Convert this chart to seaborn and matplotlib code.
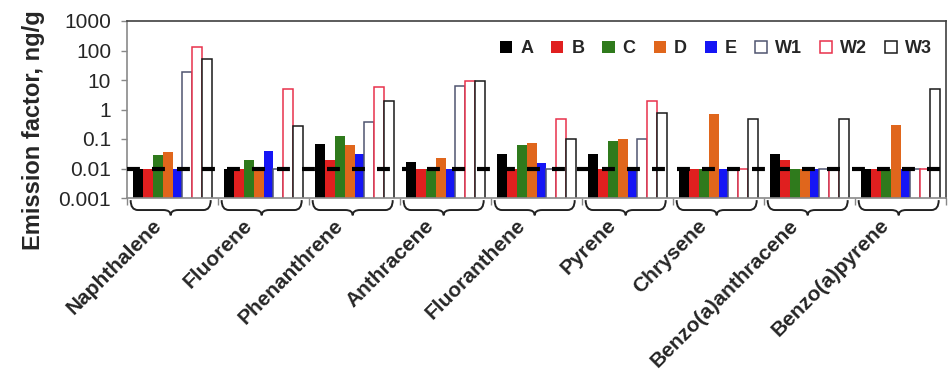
import numpy as np
import pandas as pd
import matplotlib
matplotlib.use("Agg")
import matplotlib.pyplot as plt
import seaborn as sns
from matplotlib.patches import Patch, PathPatch
from matplotlib.path import Path
import matplotlib.transforms as mtransforms

categories = ["Naphthalene", "Fluorene", "Phenanthrene", "Anthracene", "Fluoranthene",
              "Pyrene", "Chrysene", "Benzo(a)anthracene", "Benzo(a)pyrene"]
series = ["A", "B", "C", "D", "E", "W1", "W2", "W3"]
A = [0.01, 0.01, 0.068, 0.016, 0.032, 0.032, 0.01, 0.032, 0.01]
B = [0.01, 0.01, 0.02, 0.01, 0.01, 0.01, 0.01, 0.019, 0.01]
C = [0.029, 0.019, 0.13, 0.01, 0.061, 0.085, 0.01, 0.01, 0.01]
D = [0.035, 0.01, 0.063, 0.022, 0.071, 0.098, 0.72, 0.01, 0.31]
E = [0.01, 0.039, 0.03, 0.01, 0.015, 0.01, 0.01, 0.01, 0.01]
W1 = [19, 0.01, 0.39, 6.4, 0.01, 0.098, 0.01, 0.01, 0.01]
W2 = [134, 4.8, 5.9, 9.5, 0.48, 1.94, 0.01, 0.01, 0.01]
W3 = [52, 0.28, 2.0, 9.5, 0.098, 0.78, 0.48, 0.48, 4.8]
ytick_vals = [0.001, 0.01, 0.1, 1, 10, 100, 1000]
ytick_labels = ["0.001", "0.01", "0.1", "1", "10", "100", "1000"]
threshold = 0.01

fill_colors = {"A": "#000000", "B": "#e01f1f", "C": "#2f7a1c", "D": "#e0661c", "E": "#1515f5",
               "W1": "#ffffff", "W2": "#ffffff", "W3": "#ffffff"}
edge_colors = {"W1": "#505570", "W2": "#e8324c", "W3": "#1a1a1a"}

values = {"A": A, "B": B, "C": C, "D": D, "E": E, "W1": W1, "W2": W2, "W3": W3}
rows = []
for s in series:
    for c, v in zip(categories, values[s]):
        rows.append({"compound": c, "series": s, "value": v})
df = pd.DataFrame(rows)

sns.set_style("white")
plt.rcParams["font.family"] = ["Liberation Sans", "DejaVu Sans"]

fig = plt.figure(figsize=(9.48, 3.70), dpi=100)
ax = fig.add_axes([127 / 948, 1 - 198 / 370, (946 - 127) / 948, 177 / 370])

sns.barplot(data=df, x="compound", y="value", hue="series", order=categories,
            hue_order=series, palette=fill_colors, width=0.86, errorbar=None,
            saturation=1, legend=False, ax=ax)

for s, cont in zip(series, ax.containers):
    for p in cont.patches:
        if s in edge_colors:
            p.set_facecolor("white")
            p.set_edgecolor(edge_colors[s])
            p.set_linewidth(1.1)
        else:
            p.set_linewidth(0)

ax.set_yscale("log")
ax.set_ylim(0.001, 1000)
ax.set_xlim(-0.5, len(categories) - 0.5)
ax.set_yticks(ytick_vals)
ax.set_yticklabels(ytick_labels)
ax.yaxis.set_minor_locator(matplotlib.ticker.NullLocator())
ax.set_xticks(np.arange(len(categories) + 1) - 0.5)
ax.set_xticklabels([])
ax.tick_params(axis="y", which="major", length=4.5, width=1, color="#888888",
               labelsize=15, pad=7, left=True, direction="out")
ax.tick_params(axis="x", which="major", length=5, width=1, color="#888888",
               bottom=True, direction="out")
ax.set_xlabel("")
ax.set_ylabel("Emission factor, ng/g", fontsize=17, fontweight="bold")
ax.yaxis.set_label_coords(-0.100, 0.384)

for side in ["left", "bottom"]:
    ax.spines[side].set_color("#8a8a8a")
    ax.spines[side].set_linewidth(1.2)
for side in ["top", "right"]:
    ax.spines[side].set_color("#404040")
    ax.spines[side].set_linewidth(1.2)
    ax.spines[side].set_visible(True)

ax.axhline(threshold, color="black", lw=3.0, linestyle=(0, (3.1, 2.9)), zorder=5)

# braces under each group
trans = mtransforms.blended_transform_factory(ax.transData, ax.transAxes)
ytop, ymid, ytip = -0.012, -0.068, -0.098
for i in range(len(categories)):
    xl, xr = i - 0.46, i + 0.42
    xc = (xl + xr) / 2
    d = 0.08
    verts = [(xl, ytop), (xl, ymid), (xl + d, ymid),
             (xc - d, ymid), (xc, ymid), (xc, ytip),
             (xc, ymid), (xc + d, ymid),
             (xr - d, ymid), (xr, ymid), (xr, ytop)]
    codes = [Path.MOVETO, Path.CURVE3, Path.CURVE3,
             Path.LINETO, Path.CURVE3, Path.CURVE3,
             Path.CURVE3, Path.CURVE3,
             Path.LINETO, Path.CURVE3, Path.CURVE3]
    patch = PathPatch(Path(verts, codes), transform=trans, fill=False,
                      edgecolor="#222222", lw=1.4, clip_on=False)
    ax.add_patch(patch)
    ax.text(i - 0.23, -0.10, categories[i], transform=trans, rotation=45,
            rotation_mode="anchor", ha="right", va="top", fontsize=15,
            fontweight="bold", clip_on=False)

handles = []
for s in series:
    if s in edge_colors:
        handles.append(Patch(facecolor="white", edgecolor=edge_colors[s], linewidth=1.1))
    else:
        handles.append(Patch(facecolor=fill_colors[s], edgecolor="none"))
leg = ax.legend(handles, series, ncol=8, loc="center right",
                bbox_to_anchor=(0.983, 0.842), frameon=False,
                handlelength=0.67, handleheight=0.67, handletextpad=0.44,
                columnspacing=1.0, borderpad=0.0, borderaxespad=0.0,
                prop={"weight": "bold", "size": 13})

fig.savefig("out.png", dpi=100)
